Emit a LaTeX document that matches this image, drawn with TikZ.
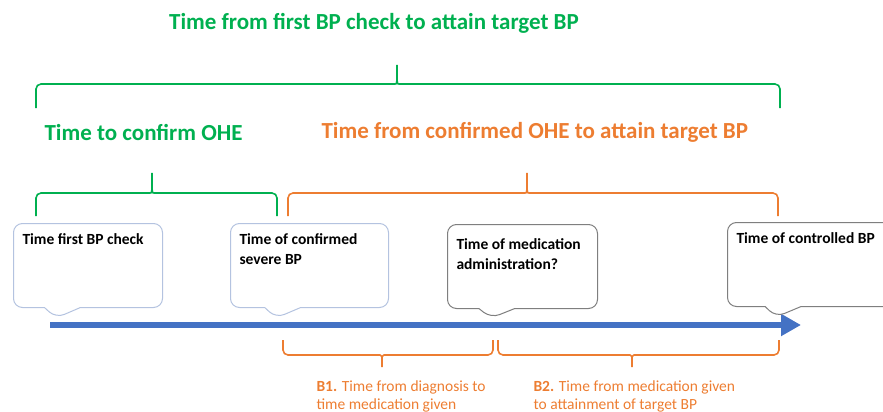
\documentclass[tikz,border=0pt]{standalone}
\usepackage{fontspec}
\setmainfont{Carlito}
\usetikzlibrary{shapes.callouts,arrows.meta}
\definecolor{ohegreen}{HTML}{00B050}
\definecolor{oheorange}{HTML}{ED7D31}
\definecolor{tlblue}{HTML}{4472C4}
\definecolor{boxblue}{HTML}{B4C3E0}
\definecolor{boxgray}{HTML}{7F7F7F}
% brace: colour, left x, right x, tip x, end y, bar y, tip y
\newcommand{\spanbrace}[7]{%
  \draw[#1,line width=1.6pt,rounded corners=5pt] (#2,#5) -- (#2,#6) -- ({#4-7},#6)
    .. controls (#4,#6) .. (#4,#7) .. controls (#4,#6) .. ({#4+7},#6) -- (#3,#6) -- (#3,#5);}
% text of a callout, kept at the top of the box
\newcommand{\evtext}[2]{\parbox[t][64pt][t]{#1}{\raggedright #2}}
\tikzset{
  event/.style={rectangle callout, draw=boxblue, line width=1pt, rounded corners=9pt,
    fill=white, anchor=north west, inner xsep=9pt, inner ysep=10pt,
    callout pointer width=36pt, font=\bfseries\fontsize{15.5}{20}\selectfont},
  eventgray/.style={event, draw=boxgray},
  span/.style={font=\bfseries\fontsize{23}{27}\selectfont},
  note/.style={oheorange, anchor=north west, align=left, font=\fontsize{15.5}{18.5}\selectfont}
}
\begin{document}
\begin{tikzpicture}[x=1pt,y=-1pt]
\useasboundingbox (0,0) rectangle (883,412);
\clip (0,0) rectangle (883,412);
% headings and braces above the time line
\node[span, ohegreen] (title) at (374,23) {Time from first BP check to attain target BP};
\spanbrace{ohegreen}{36}{780}{397}{108}{84}{62}
\node[span, ohegreen, anchor=west] (confirm) at (41,132) {Time to confirm OHE};
\node[span, oheorange, anchor=west] (attain) at (318,132) {Time from confirmed OHE to attain target BP};
\spanbrace{ohegreen}{36}{277}{152}{216}{193}{170}
\spanbrace{oheorange}{288}{778}{527}{216}{193}{170}
% time line
\coordinate (tl-start) at (50,325);
\coordinate (tl-end) at (801,325);
\draw[tlblue, line width=6pt, -{Triangle[length=20pt,width=21pt]}] (tl-start) -- (tl-end);
% events
\node[event, callout absolute pointer={(56,318)}] (first) at (13,223)
  {\evtext{131pt}{Time first BP check}};
\node[event, callout absolute pointer={(276,318)}] (confirmed) at (230,223)
  {\evtext{140pt}{Time of confirmed severe BP}};
\node[eventgray, callout absolute pointer={(491,318)}] (medication) at (447,224)
  {\evtext{132pt}{\vspace*{4pt}Time of medication administration?}};
\node[eventgray, callout absolute pointer={(776,317)}] (controlled) at (727,222)
  {\evtext{150pt}{Time of controlled BP}};
% braces below the time line
\spanbrace{oheorange}{283}{493}{382}{340}{355}{370}
\spanbrace{oheorange}{498}{779}{632}{340}{355}{370}
\node[note] (b1) at (313,377) {\textbf{B1.} Time from diagnosis to\\time medication given};
\node[note] (b2) at (530,377) {\textbf{B2.} Time from medication given\\to attainment of target BP};
\end{tikzpicture}
\end{document}
